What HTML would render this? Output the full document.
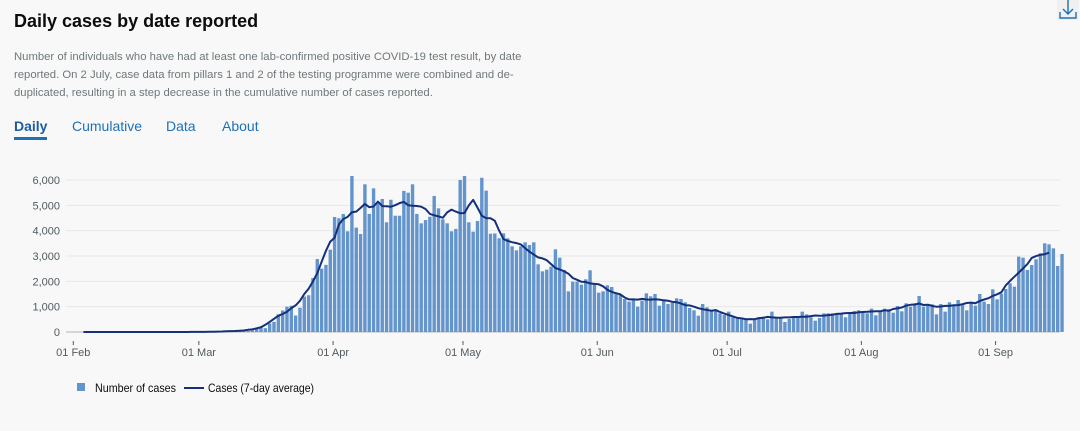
<!DOCTYPE html>
<html>
<head>
<meta charset="utf-8">
<style>
  html,body{margin:0;padding:0;background:#f8f8f8;}
  body{width:1080px;height:431px;overflow:hidden;position:relative;font-family:"Liberation Sans",sans-serif;}
  .title{position:absolute;left:14px;top:11px;font-size:18px;font-weight:bold;color:#0b0c0c;margin:0;}
  .desc{position:absolute;left:14px;top:48px;width:560px;font-size:11.3px;line-height:18px;color:#6f777b;margin:0;white-space:nowrap;}
  .tab{position:absolute;top:118px;font-size:14px;color:#1d70b8;text-decoration:none;}
  .tab.active{font-weight:bold;color:#1d5ca0;}
  .tab.active::after{content:"";position:absolute;left:0;right:0;bottom:-6px;height:3px;background:#1d70b8;}
  .dl{position:absolute;left:1057px;top:-2px;width:22px;height:22px;background:#f0f0f0;}
  svg{position:absolute;left:0;top:0;}
</style>
</head>
<body>
<h2 class="title">Daily cases by date reported</h2>
<div class="dl">
  <svg width="22" height="22" viewBox="0 0 22 22"><path d="M11 2 V16 M6 11 L11 16 L16 11 M3 14 V20 H19 V14" fill="none" stroke="#1d70b8" stroke-width="1.4"/></svg>
</div>
<p class="desc">Number of individuals who have had at least one lab-confirmed positive COVID-19 test result, by date<br>reported. On 2 July, case data from pillars 1 and 2 of the testing programme were combined and de-<br>duplicated, resulting in a step decrease in the cumulative number of cases reported.</p>
<a class="tab active" style="left:14px">Daily</a>
<a class="tab" style="left:72px">Cumulative</a>
<a class="tab" style="left:166px">Data</a>
<a class="tab" style="left:222px">About</a>

<svg id="chart" width="1080" height="431"></svg>

<script>
const startOffset = 2; // data index 0 = 3 Feb
const dailyCases = [
0,0,0,0,0,0,1,0,0,1,0,0,0,0,0,0,0,0,0,0,0,0,0,0,0,0,2,5,8,
5,12,4,11,34,29,48,45,69,43,62,130,208,150,340,400,
700,850,1000,1035,650,960,1400,1450,2130,2880,2500,2650,3250,4540,4490,
4660,3975,6160,4120,3870,5830,4660,5670,5080,5250,4330,5220,4590,4590,5570,5500,5830,4660,4290,4420,4550,5370,4880,4450,4290,3975,4070,6000,6160,4330,3960,4380,6090,5580,3880,3890,3700,
3895,3697,3382,3224,3382,3540,3435,3540,2672,2395,2461,2580,3264,2935,2448,1606,1987,1987,1869,2080,2435,1895,1553,1606,1843,1777,1527,1461,1303,1198,1277,1000,1237,1527,1408,1500,1040,1237,1105,1145,1329,1303,1171,948,856,645,
1105,974,869,895,737,671,803,579,526,500,500,329,526,579,605,500,803,579,579,395,513,579,579,803,697,579,447,553,737,737,737,737,711,579,763,829,856,763,737,921,658,816,921,895,
763,1026,816,1132,1000,1132,1421,1000,1105,1092,697,1105,803,1171,1079,1263,1092,856,1171,1040,1500,1198,1105,1684,1290,1513,1698,1921,1790,2974,2935,2448,2645,2869,3106,3500,3461,3303,2606,3080
];
const yTicks = [0,1000,2000,3000,4000,5000,6000];
const xTickLabels = ["01 Feb","01 Mar","01 Apr","01 May","01 Jun","01 Jul","01 Aug","01 Sep"];
const xTickDays = [0,29,60,90,121,151,182,213];

const svg = document.getElementById('chart');
const NS = 'http://www.w3.org/2000/svg';
const x = d => 73.3 + d*4.33;
const y = v => 332 - v*(152/6000);
function mk(tag, attrs){const e=document.createElementNS(NS,tag);for(const k in attrs)e.setAttribute(k,attrs[k]);svg.appendChild(e);return e;}

yTicks.forEach(t=>{
  const g = mk('line',{x1:66,x2:1060,y1:y(t),y2:y(t),stroke:t===0?'#b1b4b6':'#e8e8e8','stroke-width':1});
  
  
  const l = mk('text',{x:60,y:y(t)+4,'text-anchor':'end','font-size':'11','fill':'#505a5f','font-family':'Liberation Sans, sans-serif'});
  l.textContent = t.toLocaleString('en-GB');
  
  
});
xTickDays.forEach((d,i)=>{
  const tk = mk('line',{x1:x(d),x2:x(d),y1:341,y2:345,stroke:'#505a5f','stroke-width':1});
  
  
  const l = mk('text',{x:x(d),y:356,'text-anchor':'middle','font-size':'11','fill':'#505a5f','font-family':'Liberation Sans, sans-serif'});
  l.textContent = xTickLabels[i];
  
  
});
dailyCases.forEach((v,i)=>{
  if(v<=0) return;
  const cx = x(i+startOffset)+1.5;
  const b = mk('rect',{x:cx-1.7,y:y(v),width:3.4,height:332-y(v),fill:'#6394cc'});
  
  
});
// centred 7-day average
const pts=[];
for(let i=0;i<dailyCases.length-3;i++){
  let s=0;
  for(let j=i-3;j<=i+3;j++){ if(j>=0){s+=dailyCases[j];} }
  const avg = s/7;
  pts.push(x(i+startOffset)+1.5+','+y(avg).toFixed(1));
}
const line = mk('polyline',{points:pts.join(' '),fill:'none',stroke:'#14307a','stroke-width':2,'stroke-linejoin':'round'});



// legend
const lg1 = mk('rect',{x:77,y:383,width:8,height:8,fill:'#6394cc'});


const lt1 = mk('text',{x:95,y:392,'font-size':'12','fill':'#0b0c0c','font-family':'Liberation Sans, sans-serif',textLength:81,lengthAdjust:'spacingAndGlyphs'});
lt1.textContent='Number of cases';


const lg2 = mk('line',{x1:184,x2:204,y1:388,y2:388,stroke:'#14307a','stroke-width':2});


const lt2 = mk('text',{x:208,y:392,'font-size':'12','fill':'#0b0c0c','font-family':'Liberation Sans, sans-serif',textLength:106,lengthAdjust:'spacingAndGlyphs'});
lt2.textContent='Cases (7-day average)';


</script>
</body>
</html>
